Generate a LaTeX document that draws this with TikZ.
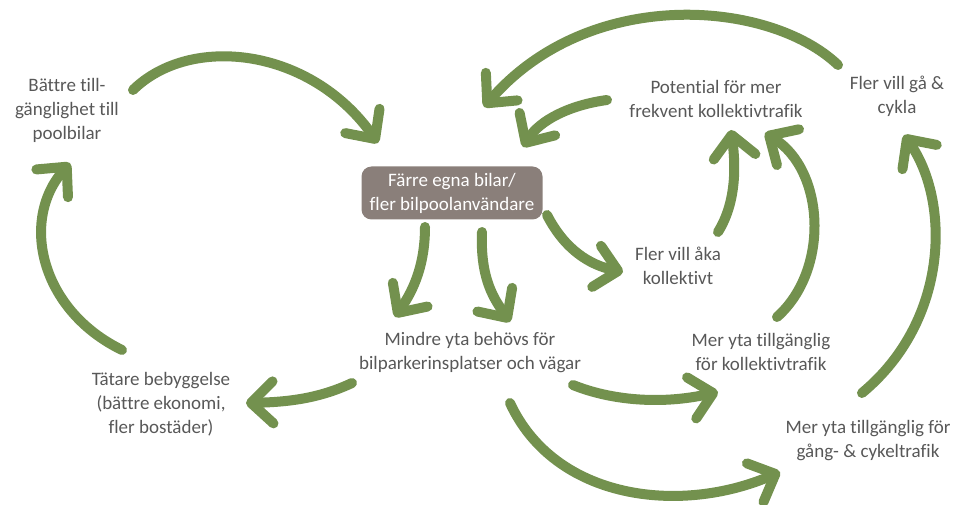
\documentclass[tikz,border=0pt]{standalone}
\usepackage{fontspec}
\setmainfont[Ligatures={NoCommon}]{Carlito}
\usetikzlibrary{arrows.meta}
\definecolor{lgreen}{HTML}{73914E}
\definecolor{boxfill}{HTML}{8A7F7A}
\definecolor{txtgray}{HTML}{585858}
\tikzset{
  lbl/.style={text=txtgray, align=center, inner sep=0pt, font=\fontsize{19}{24}\selectfont},
  mainbox/.style={fill=boxfill, rounded corners=10pt, text=white, align=center, minimum width=181pt, minimum height=53pt, inner sep=0pt, font=\fontsize{19}{24}\selectfont},
  arr/.style={draw=lgreen, line width=10pt, line cap=round, -{Straight Barb[round, length=22pt, width=42pt]}}
}
\begin{document}
\begin{tikzpicture}[x=1pt, y=-1pt]
\useasboundingbox (0,0) rectangle (970,505);
\node[lbl] (bat) at (67,110) {Bättre till-\\gänglighet till\\poolbilar};
\node[mainbox] (box) at (452,193) {Färre egna bilar/\\fler bilpoolanvändare};
\node[lbl] (pot) at (716,99) {Potential för mer\\frekvent kollektivtrafik};
\node[lbl] (gac) at (897,96) {Fler vill gå \&\\cykla};
\node[lbl] (aka) at (678,266) {Fler vill åka\\kollektivt};
\node[lbl] (mindre) at (470,353) {Mindre yta behövs för\\bilparkerinsplatser och vägar};
\node[lbl] (kol) at (761,352) {Mer yta tillgänglig\\för kollektivtrafik};
\node[lbl] (tat) at (161,404) {Tätare bebyggelse\\(bättre ekonomi,\\fler bostäder)};
\node[lbl] (gang) at (868,441) {Mer yta tillgänglig för\\gång- \& cykeltrafik};

\draw[arr] ([shift={(66,-20)}]bat.center) .. controls +(57,-56) and +(-68,-96) .. ([shift={(-74,-50)}]box.center);
\draw[arr] ([shift={(-39,-54)}]tat.center) .. controls +(-82,-40) and +(-50,57) .. ([shift={(3,53)}]bat.center);
\draw[arr] ([shift={(-118,30)}]mindre.center) .. controls +(-32,15) and +(44,-1) .. ([shift={(85,-1)}]tat.center);
\draw[arr] ([shift={(-27,34)}]box.center) .. controls +(0,43) and +(15,-22) .. ([shift={(-75,-36)}]mindre.center);
\draw[arr] ([shift={(30,39)}]box.center) .. controls +(-2,48) and +(-15,-22) .. ([shift={(40,-31)}]mindre.center);
\draw[arr] ([shift={(95,22)}]box.center) .. controls +(18,35) and +(-33,-7) .. ([shift={(-55,6)}]aka.center);
\draw[arr] ([shift={(40,-34)}]aka.center) .. controls +(20,-32) and +(4,30) .. ([shift={(15,31)}]pot.center);
\draw[arr] ([shift={(16,-35)}]kol.center) .. controls +(53,-47) and +(60,37) .. ([shift={(49,34)}]pot.center);
\draw[arr] ([shift={(103,32)}]mindre.center) .. controls +(37,15) and +(-58,13) .. ([shift={(-43,40)}]kol.center);
\draw[arr] ([shift={(40,50)}]mindre.center) .. controls +(45,97) and +(-100,43) .. ([shift={(-88,31)}]gang.center);
\draw[arr] ([shift={(-6,-48)}]gang.center) .. controls +(88,-73) and +(46,65) .. ([shift={(7,39)}]gac.center);
\draw[arr] ([shift={(-59,-31)}]gac.center) .. controls +(-68,-65) and +(106,-122) .. ([shift={(32,-86)}]box.center);
\draw[arr] ([shift={(-109,1)}]pot.center) .. controls +(-37,5) and +(17,-27) .. ([shift={(71,-46)}]box.center);
\end{tikzpicture}
\end{document}
